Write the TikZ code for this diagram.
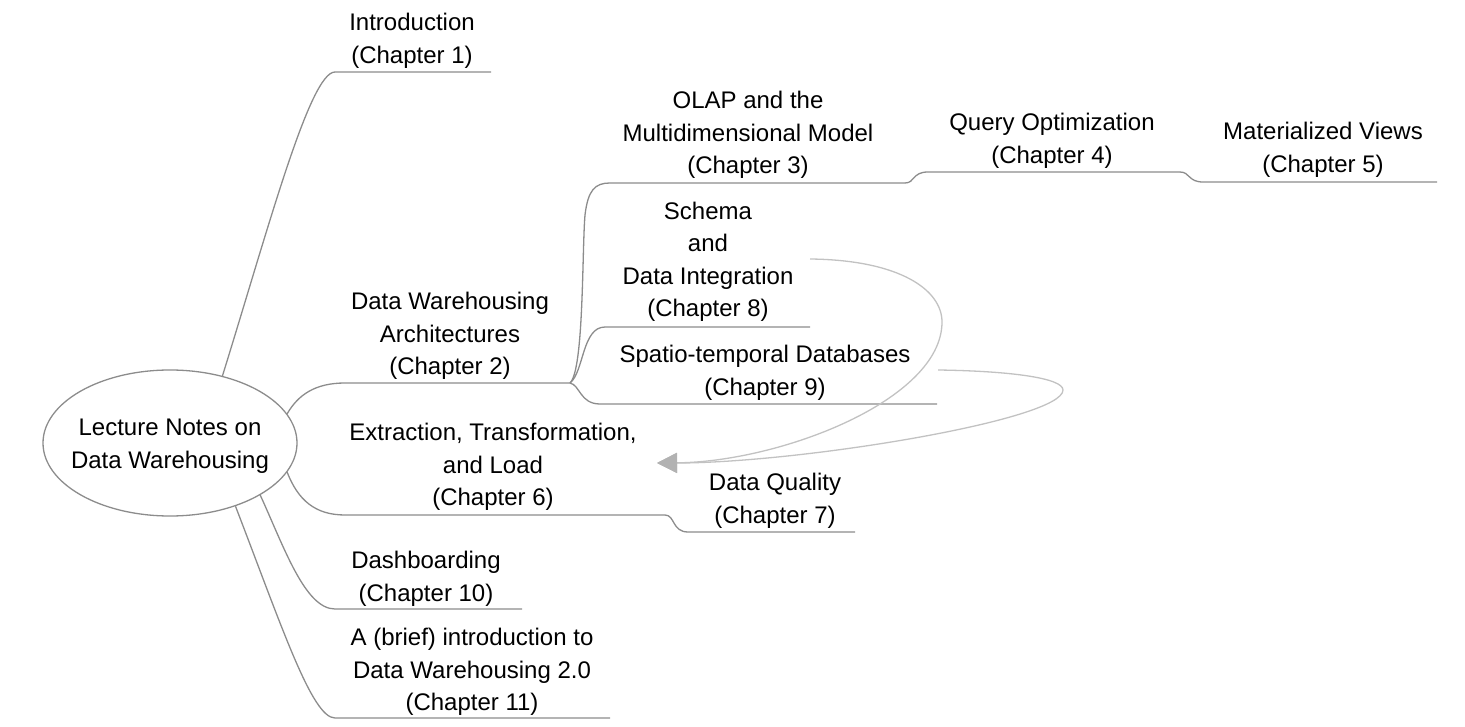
\documentclass[tikz,border=0pt]{standalone}
\usepackage{fontspec}
\setmainfont{Liberation Sans}
\usetikzlibrary{shapes.geometric,arrows.meta}
\definecolor{branch}{HTML}{8C8C8C}
\definecolor{link}{HTML}{C2C2C2}
\definecolor{tipgray}{HTML}{B2B2B2}
\begin{document}
\begin{tikzpicture}[x=1pt,y=-1pt,
  topic/.style={align=center,font=\fontsize{24}{32.5}\selectfont,inner sep=0pt},
  branchline/.style={draw=branch,line width=1.3pt},
  linkline/.style={draw=link,line width=1.3pt,-{Triangle[length=20pt,width=20pt,color=tipgray]}}]
\useasboundingbox (0,0) rectangle (1465,727);
% root
\node[ellipse,draw=branch,line width=1.3pt,minimum width=254pt,minimum height=146pt,inner sep=0pt] (root) at (170,443) {};
\node[topic] (rootlabel) at (170,446) {Lecture Notes on\\Data Warehousing};
% coordinates of underlines
\coordinate (fork) at (570,383);
\coordinate (u1a) at (335,72);   \coordinate (u1b) at (491,72);
\coordinate (u2a) at (345,383);
\coordinate (u3a) at (610,183);  \coordinate (u3b) at (905,183);
\coordinate (u4a) at (928,172);  \coordinate (u4b) at (1180,172);
\coordinate (u5a) at (1203,182); \coordinate (u5b) at (1437,182);
\coordinate (u6a) at (345,515);  \coordinate (u6b) at (665,515);
\coordinate (u7a) at (688,532);  \coordinate (u7b) at (855,532);
\coordinate (u8a) at (605,327);  \coordinate (u8b) at (810,327);
\coordinate (u9a) at (600,404);  \coordinate (u9b) at (937,404);
\coordinate (u10a) at (335,609); \coordinate (u10b) at (522,609);
\coordinate (u11a) at (335,718); \coordinate (u11b) at (610,718);
\coordinate (schlink) at (810,259);
\coordinate (splink) at (938,370);
\coordinate (etltip) at (657,463);
% labels
\node[topic] (intro) at (412,41) {Introduction\\(Chapter 1)};
\node[topic] (dwa) at (450,336) {Data Warehousing\\Architectures\\(Chapter 2)};
\node[topic] (olap) at (748,135) {OLAP and the\\Multidimensional Model\\(Chapter 3)};
\node[topic] (query) at (1052,141) {Query Optimization\\(Chapter 4)};
\node[topic] (matv) at (1323,150) {Materialized Views\\(Chapter 5)};
\node[topic] (etl) at (493,467) {Extraction, Transformation,\\and Load\\(Chapter 6)};
\node[topic] (dq) at (775,501) {Data Quality\\(Chapter 7)};
\node[topic] (schema) at (708,262) {Schema\\and\\Data Integration\\(Chapter 8)};
\node[topic] (spatio) at (765,373) {Spatio-temporal Databases\\(Chapter 9)};
\node[topic] (dash) at (426,579) {Dashboarding\\(Chapter 10)};
\node[topic] (brief) at (472,672) {A (brief) introduction to\\Data Warehousing 2.0\\(Chapter 11)};
% branches
\draw[branchline] (root.52) .. controls (269,226) and (310,72) .. (u1a) -- (u1b);
\draw[branchline] (root.14) .. controls (298,395) and (315,383) .. (u2a) -- (fork);
\draw[branchline] (fork) .. controls (584,370) and (582,250) .. (585,215) .. controls (588,190) and (595,183) .. (u3a) -- (u3b);
\draw[branchline] (u3b) .. controls (915,183) and (912,172) .. (u4a) -- (u4b);
\draw[branchline] (u4b) .. controls (1190,172) and (1188,182) .. (u5a) -- (u5b);
\draw[branchline] (fork) .. controls (584,372) and (582,327) .. (u8a) -- (u8b);
\draw[branchline] (fork) .. controls (580,385) and (580,404) .. (u9a) -- (u9b);
\draw[branchline] (root.-14) .. controls (298,500) and (315,515) .. (u6a) -- (u6b);
\draw[branchline] (u6b) .. controls (675,515) and (672,532) .. (u7a) -- (u7b);
\draw[branchline] (root.-30) .. controls (284,547) and (305,609) .. (u10a) -- (u10b);
\draw[branchline] (root.-44) .. controls (282,627) and (312,718) .. (u11a) -- (u11b);
% cross links
\draw[linkline] (schlink) .. controls (900,260) and (942,290) .. (942,322) .. controls (942,400) and (780,462) .. (etltip);
\draw[linkline] (splink) .. controls (1010,371) and (1063,378) .. (1063,390) .. controls (1063,420) and (800,463) .. (etltip);
\end{tikzpicture}
\end{document}
